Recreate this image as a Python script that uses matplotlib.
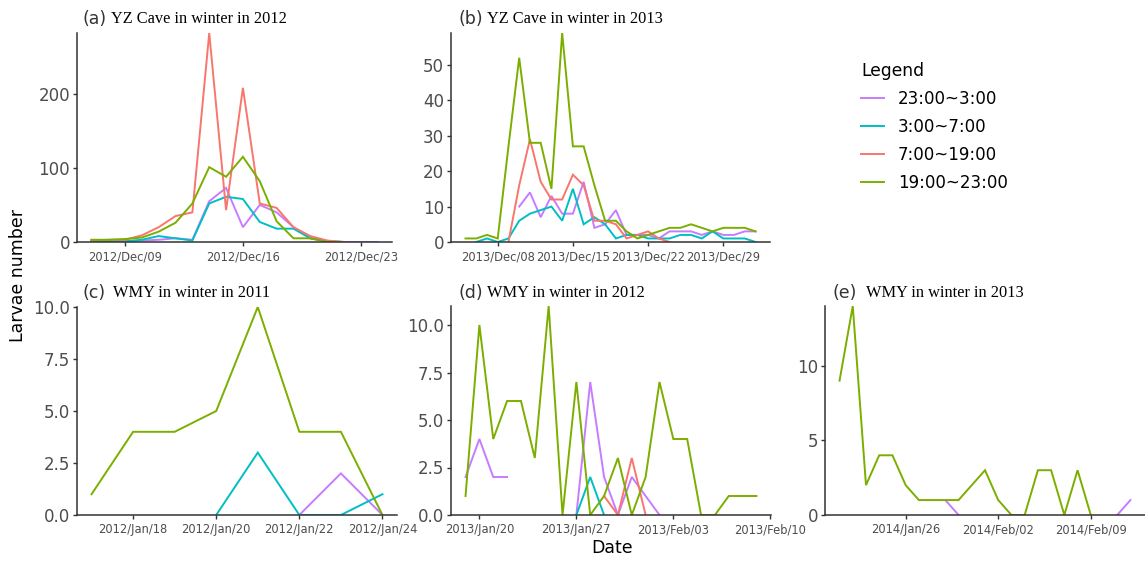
import numpy as np
import pandas as pd
import matplotlib
matplotlib.use('Agg')
import matplotlib.pyplot as plt
import matplotlib.dates as mdates
from matplotlib.lines import Line2D

nan = np.nan

periods = ['23:00~3:00', '3:00~7:00', '7:00~19:00', '19:00~23:00']
colors = ['#C77CFF', '#00BFC4', '#F8766D', '#7CAE00']

# (a) YZ Cave, winter 2012, daily from 2012-12-07
a_start = '2012-12-07'
a_night = [1, 1, 1, 2, 3, 5, 3, 55, 73, 20, 50, 40, 20, 5, 1, 0, 0, 0]
a_dawn = [1, 1, 1, 3, 8, 5, 2, 52, 61, 58, 27, 18, 18, 5, 1, 0, nan, nan]
a_day = [2, 3, 3, 9, 20, 35, 40, 282, 43, 208, 52, 46, 20, 8, 2, 0, nan, nan]
a_dusk = [3, 3, 4, 6, 14, 26, 52, 101, 88, 115, 82, 28, 5, 5, 0, 0, nan, nan]

# (b) YZ Cave, winter 2013, daily from 2013-12-05
b_start = '2013-12-05'
b_night = [nan] * 5 + [10, 14, 7, 13, 8, 8, 17, 4, 5, 9, 2, 2, 2, 1, 3, 3, 3, 2, 3, 2, 2, 3, 3]
b_dawn = [nan, 0, 1, 0, 1, 6, 8, 9, 10, 6, 15, 5, 7, 5, 1, 2, 2, 1, 1, 1, 2, 2, 1, 3, 1, 1, 1, 0]
b_day = [nan] * 4 + [0, 16, 29, 17, 12, 12, 19, 16, 6, 6, 5, 1, 2, 3, 1, 0] + [nan] * 8
b_dusk = [1, 1, 2, 1, 27, 52, 28, 28, 15, 59, 27, 27, 16, 6, 6, 3, 1, 2, 3, 4, 4, 5, 4, 3, 4, 4, 4, 3]

# (c) WMY, winter 2011, daily from 2012-01-17
c_start = '2012-01-17'
c_night = [nan] * 5 + [0, 2, 0]
c_dawn = [nan] * 3 + [0, 3, 0, 0, 1]
c_day = None
c_dusk = [1, 4, 4, 5, 10, 4, 4, 0]

# (d) WMY, winter 2012, daily from 2013-01-19
d_start = '2013-01-19'
d_night = [2, 4, 2, 2, nan, nan, nan, nan, 0, 7, 2, 0, 2, 1, 0] + [nan] * 7
d_dawn = [nan] * 8 + [0, 2, 0] + [nan] * 11
d_day = [nan] * 10 + [1, 0, 3, 0] + [nan] * 8
d_dusk = [1, 10, 4, 6, 6, 3, 11, 0, 7, 0, 1, 3, 0, 2, 7, 4, 4, 0, 0, 1, 1, 1]

# (e) WMY, winter 2013, daily from 2014-01-21
e_start = '2014-01-21'
e_night = [nan] * 8 + [1, 0] + [nan] * 11 + [0, 1]
e_dawn = None
e_day = None
e_dusk = [9, 14, 2, 4, 4, 2, 1, 1, 1, 1, 2, 3, 1, 0, 0, 3, 3, 0, 3, 0] + [nan] * 3

a_ticks = ['2012-12-09', '2012-12-16', '2012-12-23']
b_ticks = ['2013-12-08', '2013-12-15', '2013-12-22', '2013-12-29']
c_ticks = ['2012-01-18', '2012-01-20', '2012-01-22', '2012-01-24']
d_ticks = ['2013-01-20', '2013-01-27', '2013-02-03', '2013-02-10']
e_ticks = ['2014-01-26', '2014-02-02', '2014-02-09']

a_yticks = [0, 100, 200]
b_yticks = [0, 10, 20, 30, 40, 50]
c_yticks = [0, 2.5, 5, 7.5, 10]
d_yticks = [0, 2.5, 5, 7.5, 10]
e_yticks = [0, 5, 10]

tags = ['(a)', '(b)', '(c)', '(d)', '(e)']
titles = ['YZ Cave in winter in 2012', 'YZ Cave in winter in 2013',
          'WMY in winter in 2011', 'WMY in winter in 2012', 'WMY in winter in 2013']

W, H = 1145, 561
SANS = 'DejaVu Sans'
SERIF = 'Liberation Serif'
plt.rcParams['font.family'] = SANS

fig = plt.figure(figsize=(W / 100, H / 100), dpi=100)


def rect(left, top, right, bottom):
    return [left / W, 1 - bottom / H, (right - left) / W, (bottom - top) / H]


def draw_panel(box, start, series, ticks, yticks, yfmt):
    ax = fig.add_axes(rect(*box))
    n = max(len(s) for s in series if s is not None)
    dates = pd.date_range(start, periods=n, freq='D')
    top = 0
    for s, col in zip(series, colors):
        if s is None:
            continue
        ax.plot(dates, s, color=col, lw=1.4, solid_joinstyle='miter')
        top = max(top, np.nanmax(s))
    ax.margins(x=0.05)
    lims = ax.get_xlim()
    ax.set_xticks(pd.to_datetime(ticks))
    ax.set_xlim(lims)
    ax.xaxis.set_major_formatter(mdates.DateFormatter('%Y/%b/%d'))
    ax.set_ylim(0, top)
    ax.set_yticks(yticks)
    ax.set_yticklabels([yfmt % v for v in yticks])
    for side in ['top', 'right']:
        ax.spines[side].set_visible(False)
    for side in ['left', 'bottom']:
        ax.spines[side].set_color('#333333')
        ax.spines[side].set_linewidth(1.1)
    ax.tick_params(axis='x', labelsize=8.3, colors='#333333', labelcolor='#4d4d4d',
                   length=3, width=1, pad=3)
    ax.tick_params(axis='y', labelsize=12, colors='#333333', labelcolor='#4d4d4d',
                   length=3, width=1, pad=2)
    ax.patch.set_visible(False)
    return ax


draw_panel((77, 33, 392, 242), a_start, [a_night, a_dawn, a_day, a_dusk], a_ticks, a_yticks, '%d')
draw_panel((451, 33, 770, 242), b_start, [b_night, b_dawn, b_day, b_dusk], b_ticks, b_yticks, '%d')
draw_panel((77, 307, 397, 515), c_start, [c_night, c_dawn, c_day, c_dusk], c_ticks, c_yticks, '%.1f')
draw_panel((451, 306, 771, 515), d_start, [d_night, d_dawn, d_day, d_dusk], d_ticks, d_yticks, '%.1f')
draw_panel((825, 306, 1145, 515), e_start, [e_night, e_dawn, e_day, e_dusk], e_ticks, e_yticks, '%d')

# panel tags and titles
tag_pos = [(83, 111, 19), (458, 487, 19), (83, 113, 293), (458, 487, 293), (833, 866, 293)]
for (tx, sx, ty), tag, title in zip(tag_pos, tags, titles):
    fig.text(tx / W, 1 - ty / H, tag, fontsize=12.5, color='#333333', va='center', ha='left')
    fig.text(sx / W, 1 - ty / H, title, fontsize=11.8, family=SERIF, color='black',
             va='center', ha='left')

fig.text(18 / W, 1 - 276 / H, 'Larvae number', rotation=90, fontsize=12.5,
         va='center', ha='center', color='black')
fig.text(612 / W, 1 - 548 / H, 'Date', fontsize=12.5, va='center', ha='center', color='black')

handles = [Line2D([], [], color=c, lw=1.4) for c in colors]
leg = fig.legend(handles, periods, loc='upper left', bbox_to_anchor=(861 / W, 1 - 62 / H),
                 frameon=False, title='Legend', fontsize=12, title_fontsize=12.3,
                 handlelength=1.4, handletextpad=0.8, labelspacing=0.6, borderpad=0,
                 borderaxespad=0, alignment='left')

fig.savefig('out.png', dpi=100)
